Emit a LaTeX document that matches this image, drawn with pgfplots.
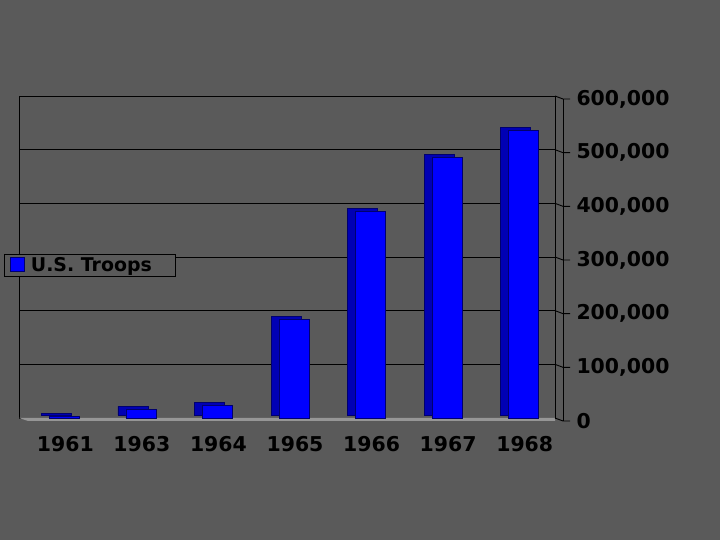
\documentclass[border=0pt]{standalone}
\usepackage{pgfplots}
\pgfplotsset{compat=1.18}
\usepackage{fontspec}
\setmainfont{DejaVu Sans}

\definecolor{bg}{RGB}{90,90,90}
\definecolor{front}{RGB}{0,0,255}
\definecolor{side}{RGB}{0,0,180}
\definecolor{edge}{RGB}{0,0,110}
\definecolor{floorc}{RGB}{150,150,150}

\begin{document}
\begin{tikzpicture}
\fill[bg] (0,0) rectangle (720bp,540bp);
\useasboundingbox (0,0) rectangle (720bp,540bp);
\begin{axis}[
    at={(19bp,122bp)}, anchor=south west,
    scale only axis, width=536bp, height=322bp,
    xmin=-0.5, xmax=6.5,
    ymin=0, ymax=600000,
    axis line style={black, line width=0.9pt},
    ytick={0,100000,200000,300000,400000,500000,600000},
    yticklabels={0,{100,000},{200,000},{300,000},{400,000},{500,000},{600,000}},
    ymajorgrids, grid style={black, line width=0.9pt},
    yticklabel pos=right,
    y tick label style={anchor=west, xshift=18bp, yshift=-3bp},
    scaled y ticks=false,
    ytick style={draw=none},
    xtick={0,...,6},
    xticklabels={1961,1963,1964,1965,1966,1967,1968},
    xtick style={draw=none},
    x tick label style={xshift=8bp, yshift=-15bp},
    extra x ticks={-0.38,0.62,1.62,2.62,3.62,4.62,5.62},
    extra x tick labels={},
    extra x tick style={tick style={draw=black, line width=0.9pt}, major tick length=5bp, tick align=outside, grid=none},
    ticklabel style={font=\bfseries\fontsize{20.5}{24}\selectfont, text=black},
    legend style={at={(axis description cs:0,0)}, anchor=south west,
        xshift=-15bp, yshift=141bp, fill=bg, draw=black, line width=0.8pt,
        font=\bfseries\fontsize{19}{21}\selectfont, text=black,
        inner xsep=6bp, inner ysep=1.5bp,
        nodes={inner xsep=6bp}},
    legend image code/.code={\draw[fill=front, draw=edge, line width=0.5pt] (0bp,-6bp) rectangle (14bp,8bp);},
    clip=false,
]
% floor strip
\fill[floorc] (axis cs:-0.5,0) -- (axis cs:6.5,0) -- ([yshift=-3bp]axis cs:6.5,0) -- ([xshift=9bp,yshift=-3bp]axis cs:-0.5,0) -- cycle;
% right side wall edge and its ticks
\draw[black, line width=0.9pt] ([xshift=8bp,yshift=-3bp]axis cs:6.5,600000) -- ([xshift=8bp,yshift=-3bp]axis cs:6.5,0);
\pgfplotsinvokeforeach{0,100000,200000,300000,400000,500000,600000}{
  \draw[black, line width=0.9pt] (axis cs:6.5,#1) -- ([xshift=8bp,yshift=-3bp]axis cs:6.5,#1) -- ([xshift=15bp,yshift=-3bp]axis cs:6.5,#1);
}
\addplot[ybar, bar width=30bp, bar shift=-1bp, fill=side, draw=edge, line width=0.6pt, yshift=3bp, forget plot]
  coordinates {(0,3200) (1,16300) (2,23300) (3,184300) (4,385300) (5,485600) (6,536100)};
\addplot[ybar, bar width=30bp, bar shift=7bp, fill=front, draw=edge, line width=0.6pt]
  coordinates {(0,3200) (1,16300) (2,23300) (3,184300) (4,385300) (5,485600) (6,536100)};
\legend{U.S. Troops\rule{12bp}{0pt}}
\end{axis}
\end{tikzpicture}
\end{document}
